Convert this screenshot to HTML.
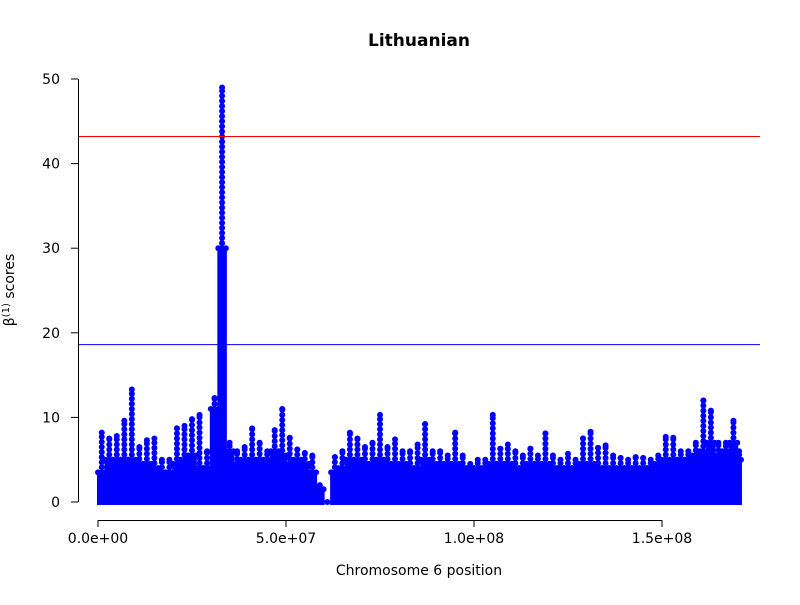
<!DOCTYPE html>
<html><head><meta charset="utf-8"><style>
body{margin:0;background:#fff}
svg text{font-family:"DejaVu Sans","Liberation Sans",sans-serif;font-size:14px;fill:#000}
</style></head><body>
<svg id="chart" width="800" height="600" viewBox="0 0 800 600" xmlns="http://www.w3.org/2000/svg">
<text x="419" y="46" text-anchor="middle" style="font-weight:bold;font-size:17px">Lithuanian</text>
<text x="419" y="575" text-anchor="middle">Chromosome 6 position</text>
<text transform="translate(14,290) rotate(-90)" text-anchor="middle">β<tspan dy="-5" style="font-size:10px">(1)</tspan><tspan dy="5"> scores</tspan></text>
<g id="marks"></g>
<g id="axes"></g>
</svg>
<script>
const posMb=[0,2,4,6,8,10,12,14,16,18,20,22,24,26,28,30,32,34,36,38,40,42,44,46,48,50,52,54,56,58,60,62,64,66,68,70,72,74,76,78,80,82,84,86,88,90,92,94,96,98,100,102,104,106,108,110,112,114,116,118,120,122,124,126,128,130,132,134,136,138,140,142,144,146,148,150,152,154,156,158,160,162,164,166,168,170];
const baseVals=[3.5,5,5,5,5,4.5,4.5,4,3.5,3.5,4.5,5,5.5,4,4,11,30,6,4.5,5,5,4.5,5,6,5.5,4.5,5,4.5,3.5,1.5,0,3.5,4,5,5,4.5,4.5,5,4.5,4.5,4.5,4,4,5,4.5,4,4.5,4.5,4,4,4,4,4.5,4.5,4.5,4,4,4.5,4.5,4.5,4,4,4,4,4.5,4.5,4,4,4,4,4,4,4,4,4.5,5,5,5,5,5.5,6,7,5.5,6,7,5];
const peakVals=[8.2,7.5,7.8,9.6,13.3,6.5,7.3,7.5,5,5,8.7,9,9.8,10.3,6,12.3,49,7,6,6.5,8.7,7,6,8.5,11,7.6,6.2,5.8,5.5,2,0,5.3,6,8.2,7.5,6.5,7,10.3,6.5,7.4,6,6,6.8,9.2,6,6,5.5,8.2,5.5,4.5,5,5,10.3,6.3,6.8,6,5.5,6.3,5.5,8.1,5.5,5,5.7,5,7.5,8.3,6.4,6.7,5.5,5.2,5,5.3,5.2,5,5.5,7.7,7.6,6,6,7,12,10.8,7,7,9.6,6];
const chrEndBp=171e6;
const yTicks=[0,10,20,30,40,50];
const xTicks=[0,5e7,1e8,1.5e8];
const xTickLabels=["0.0e+00","5.0e+07","1.0e+08","1.5e+08"];
const redLine=43.2, blueLine=18.6;

const X=v=>98+v*(564/1.5e8);
const Y=v=>502-v*8.46;
const NS="http://www.w3.org/2000/svg";
const marks=document.getElementById('marks');
const axes=document.getElementById('axes');
function mk(tag,attrs,parent){const e=document.createElementNS(NS,tag);for(const k in attrs)e.setAttribute(k,attrs[k]);parent.appendChild(e);return e;}

for(let i=0;i<posMb.length;i++){
  const x0=X(posMb[i]*1e6), x1=Math.min(X((posMb[i]+2)*1e6),X(chrEndBp)), xc=(x0+x1)/2;
  const b=baseVals[i], p=peakVals[i];
  if(b>0){
    const r=mk('rect',{x:x0-1,y:Y(b),width:x1-x0+2,height:Y(0)-Y(b)+3,fill:'#0000ff'},marks);
    
    
    for(let k=0;k<3;k++){
      const c=mk('circle',{cx:x0+(x1-x0)*k/2,cy:Y(b),r:3,fill:'#0000ff'},marks);
      
      
    }
  }
  for(let v=b;v<=p+0.01;v+=0.6){
    const c=mk('circle',{cx:xc,cy:Y(Math.min(v,p)),r:3,fill:'#0000ff'},marks);
    
    
  }
  if(p>b){
    const c=mk('circle',{cx:xc,cy:Y(p),r:3,fill:'#0000ff'},marks);
    
    
  }
}
const rl=mk('line',{x1:78,x2:760,y1:Y(redLine),y2:Y(redLine),stroke:'#ff0000','stroke-width':1},axes);


const bl=mk('line',{x1:78,x2:760,y1:Y(blueLine),y2:Y(blueLine),stroke:'#0000ff','stroke-width':1},axes);



mk('line',{x1:78.5,x2:78.5,y1:Y(50),y2:Y(0),stroke:'#000'},axes);
yTicks.forEach(t=>{
  mk('line',{x1:71,x2:78,y1:Y(t),y2:Y(t),stroke:'#000'},axes);
  const tx=mk('text',{x:60,y:Y(t)+5,'text-anchor':'end'},axes);
  tx.textContent=t;
  
  
});
mk('line',{x1:X(0),x2:X(1.5e8),y1:520.5,y2:520.5,stroke:'#000'},axes);
xTicks.forEach((t,i)=>{
  mk('line',{x1:X(t),x2:X(t),y1:520,y2:527,stroke:'#000'},axes);
  const tx=mk('text',{x:X(t),y:543,'text-anchor':'middle'},axes);
  tx.textContent=xTickLabels[i];
  
  
});
</script>
</body></html>
